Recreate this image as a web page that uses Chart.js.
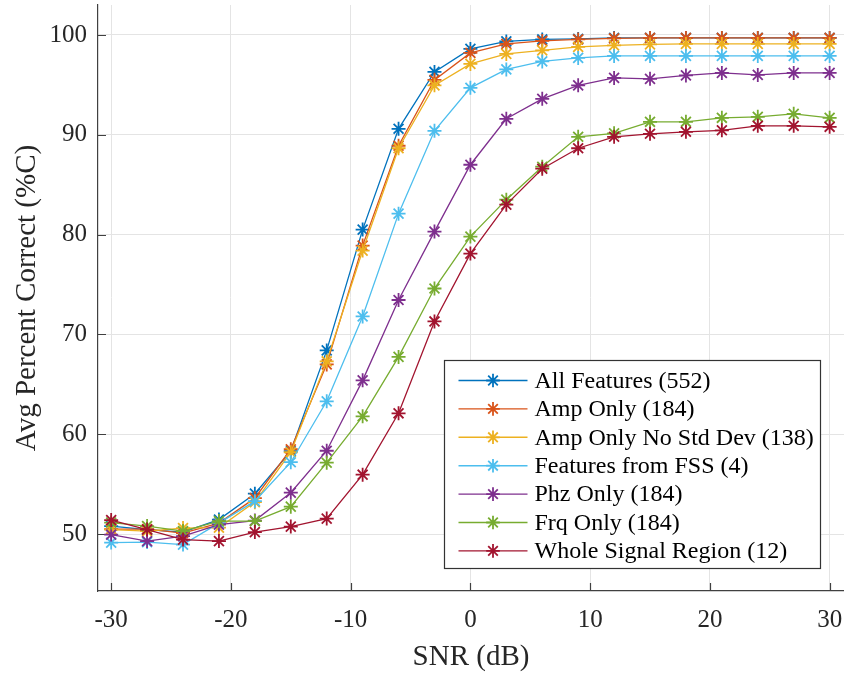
<!DOCTYPE html>
<html>
<head>
<meta charset="utf-8">
<title>Avg Percent Correct vs SNR</title>
<script src="https://cdn.jsdelivr.net/npm/chart.js@4.4.1/dist/chart.umd.min.js"></script>
<style>
  html, body { margin: 0; padding: 0; background: #fff; }
  #wrap { width: 844px; height: 675px; }
</style>
</head>
<body>
<div id="wrap"><canvas id="snrChart" width="844" height="675"></canvas></div>
<script>
// SNR sweep (dB) and tick positions
const snr = [-30, -27, -24, -21, -18, -15, -12, -9, -6, -3, 0, 3, 6, 9, 12, 15, 18, 21, 24, 27, 30];
const xTicks = [-30, -20, -10, 0, 10, 20, 30];
const yTicks = [50, 60, 70, 80, 90, 100];

// Average percent correct per feature set
const allFeatures = [50.8, 50.45, 50.2, 51.45, 54.05, 58.3, 68.4, 80.5, 90.6, 96.3, 98.6, 99.35, 99.55, 99.6, 99.7, 99.7, 99.7, 99.7, 99.7, 99.7, 99.7];
const ampOnly = [50.5, 50.5, 50.1, 51.1, 53.6, 58.5, 67.0, 78.9, 88.9, 95.5, 98.2, 99.1, 99.4, 99.55, 99.65, 99.7, 99.7, 99.7, 99.7, 99.7, 99.7];
const ampNoStd = [50.45, 50.3, 50.6, 50.65, 53.2, 58.2, 67.3, 78.4, 88.65, 94.95, 97.1, 98.1, 98.45, 98.8, 98.95, 99.05, 99.1, 99.1, 99.1, 99.1, 99.1];
const fssFeatures = [49.15, 49.2, 48.95, 51.1, 53.3, 57.2, 63.3, 71.8, 82.1, 90.4, 94.7, 96.55, 97.35, 97.7, 97.9, 97.9, 97.9, 97.9, 97.9, 97.9, 97.9];
const phzOnly = [49.95, 49.3, 49.8, 50.95, 51.35, 54.15, 58.35, 65.4, 73.45, 80.3, 87.0, 91.6, 93.6, 94.95, 95.7, 95.6, 95.95, 96.2, 96.0, 96.2, 96.2];
const frqOnly = [51.15, 50.8, 50.3, 51.3, 51.3, 52.75, 57.15, 61.8, 67.75, 74.6, 79.8, 83.5, 86.8, 89.8, 90.15, 91.3, 91.3, 91.7, 91.8, 92.1, 91.7];
const wholeSignal = [51.4, 50.45, 49.45, 49.3, 50.2, 50.75, 51.55, 55.95, 62.1, 71.3, 78.1, 83.0, 86.6, 88.65, 89.8, 90.1, 90.3, 90.45, 90.9, 90.9, 90.8];

const seriesLabels = [
    'All Features (552)',
    'Amp Only (184)',
    'Amp Only No Std Dev (138)',
    'Features from FSS (4)',
    'Phz Only (184)',
    'Frq Only (184)',
    'Whole Signal Region (12)'
];
const seriesValues = [allFeatures, ampOnly, ampNoStd, fssFeatures, phzOnly, frqOnly, wholeSignal];
const seriesColors = ['#0072BD', '#D95319', '#EDB120', '#4DBEEE', '#7E2F8E', '#77AC30', '#A2142F'];

const FONT = '"Liberation Serif", "Times New Roman", serif';
const AXIS_COLOR = '#404040';
const GRID_COLOR = '#e4e4e4';
const TEXT_COLOR = '#262626';

function drawStar(ctx, x, y, r) {
    const d = r * Math.SQRT1_2;
    ctx.beginPath();
    ctx.moveTo(x - r, y); ctx.lineTo(x + r, y);
    ctx.moveTo(x, y - r); ctx.lineTo(x, y + r);
    ctx.moveTo(x - d, y - d); ctx.lineTo(x + d, y + d);
    ctx.moveTo(x - d, y + d); ctx.lineTo(x + d, y - d);
    ctx.stroke();
}

// keep the plot area fixed: no extra room for edge tick labels
function fixPadding(s) {
    s.paddingTop = 0;
    s.paddingBottom = 0;
    s.paddingLeft = 0;
    s.paddingRight = 0;
}

// short tick marks pointing into the plot area
const innerTicks = {
    id: 'innerTicks',
    beforeDatasetsDraw(chart) {
        const { ctx, chartArea, scales } = chart;
        ctx.save();
        ctx.strokeStyle = AXIS_COLOR;
        ctx.lineWidth = 1.2;
        ctx.beginPath();
        xTicks.forEach(v => {
            const px = Math.round(scales.x.getPixelForValue(v)) + 0.5;
            ctx.moveTo(px, chartArea.bottom);
            ctx.lineTo(px, chartArea.bottom - 8);
        });
        yTicks.forEach(v => {
            const py = Math.round(scales.y.getPixelForValue(v)) + 0.5;
            ctx.moveTo(chartArea.left, py);
            ctx.lineTo(chartArea.left + 8, py);
        });
        ctx.stroke();
        ctx.restore();
    }
};

// boxed legend in the lower right corner of the plot
const boxLegend = {
    id: 'boxLegend',
    afterDraw(chart) {
        const { ctx, chartArea } = chart;
        const fontSize = 24;
        const rowGap = 28.4;
        const textLeft = 90;
        ctx.save();
        ctx.font = fontSize + 'px ' + FONT;
        const maxW = Math.max(...seriesLabels.map(t => ctx.measureText(t).width));
        const boxW = Math.round(textLeft + maxW + 7);
        const boxH = Math.round(20 + rowGap * (seriesLabels.length - 1) + 18);
        const bx = Math.round(chartArea.right - 24 - boxW) + 0.5;
        const by = Math.round(chartArea.bottom - 23 - boxH) + 0.5;

        ctx.fillStyle = '#ffffff';
        ctx.fillRect(bx, by, boxW, boxH);
        ctx.strokeStyle = '#333333';
        ctx.lineWidth = 1.2;
        ctx.strokeRect(bx, by, boxW, boxH);

        seriesLabels.forEach((label, i) => {
            const cy = by + 20 + i * rowGap;
            ctx.strokeStyle = seriesColors[i];
            ctx.lineWidth = 1.4;
            ctx.beginPath();
            ctx.moveTo(bx + 14, cy);
            ctx.lineTo(bx + 83, cy);
            ctx.stroke();
            ctx.lineWidth = 1.8;
            drawStar(ctx, bx + 48.5, cy, 6.8);

            ctx.fillStyle = '#000000';
            ctx.textBaseline = 'middle';
            ctx.textAlign = 'left';
            ctx.fillText(label, bx + textLeft, cy + 1);
        });
        ctx.restore();
    }
};

const datasets = seriesValues.map((vals, i) => ({
    label: seriesLabels[i],
    data: snr.map((s, k) => ({ x: s, y: vals[k] })),
    borderColor: seriesColors[i],
    backgroundColor: seriesColors[i],
    borderWidth: 1.3,
    pointStyle: 'star',
    pointRadius: 7,
    pointBorderWidth: 1.8,
    pointBorderColor: seriesColors[i],
    tension: 0,
    fill: false,
    clip: 10,
    order: seriesValues.length - i
}));

new Chart(document.getElementById('snrChart'), {
    type: 'line',
    data: { datasets: datasets },
    plugins: [innerTicks, boxLegend],
    options: {
        responsive: false,
        animation: false,
        layout: { autoPadding: false, padding: { top: 5, right: 0, left: 0, bottom: 0 } },
        plugins: {
            legend: { display: false },
            tooltip: { enabled: false }
        },
        scales: {
            x: {
                type: 'linear',
                min: -31.1,
                max: 31.2,
                afterBuildTicks: s => { s.ticks = xTicks.map(v => ({ value: v })); },
                afterFit: s => { s.height = 84; fixPadding(s); },
                ticks: {
                    color: TEXT_COLOR,
                    font: { family: FONT, size: 25 },
                    padding: 14,
                    maxRotation: 0,
                    callback: v => String(v)
                },
                grid: { color: GRID_COLOR, lineWidth: 1, drawTicks: false },
                border: { color: AXIS_COLOR, width: 1.2 },
                title: {
                    display: true,
                    text: 'SNR (dB)',
                    color: TEXT_COLOR,
                    font: { family: FONT, size: 29 },
                    padding: { top: 0, bottom: 0 }
                }
            },
            y: {
                type: 'linear',
                min: 44.3,
                max: 103,
                afterBuildTicks: s => { s.ticks = yTicks.map(v => ({ value: v })); },
                afterFit: s => { s.width = 98; fixPadding(s); },
                ticks: {
                    color: TEXT_COLOR,
                    font: { family: FONT, size: 25 },
                    padding: 11,
                    callback: v => String(v)
                },
                grid: { color: GRID_COLOR, lineWidth: 1, drawTicks: false },
                border: { color: AXIS_COLOR, width: 1.2 },
                title: {
                    display: true,
                    text: 'Avg Percent Correct (%C)',
                    color: TEXT_COLOR,
                    font: { family: FONT, size: 29 },
                    padding: { top: 10, bottom: 0 }
                }
            }
        }
    }
});
</script>
</body>
</html>
